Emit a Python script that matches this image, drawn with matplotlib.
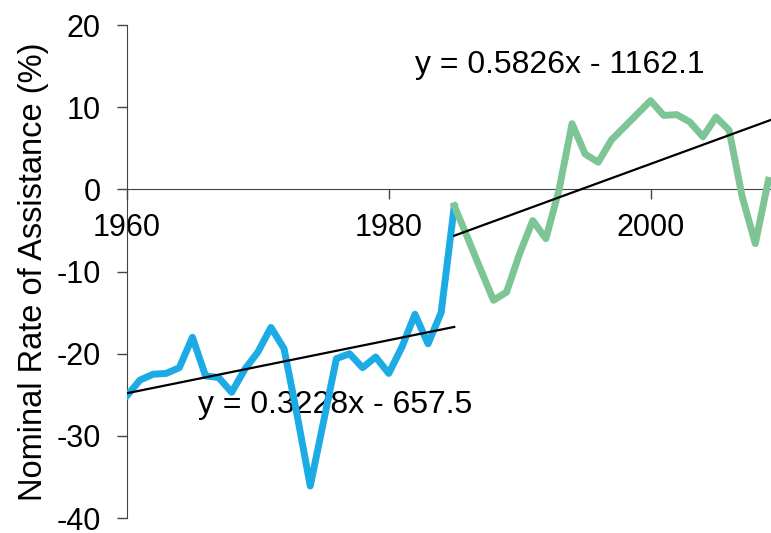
import numpy as np
import matplotlib as mpl
mpl.use('Agg')
import matplotlib.pyplot as plt

mpl.rcParams['font.family'] = ['Liberation Sans', 'DejaVu Sans']
mpl.rcParams['axes.unicode_minus'] = False

# data
years_a = list(range(1960, 1986))
nra_a = [-25.1, -23.2, -22.5, -22.4, -21.7, -18.0, -22.7, -22.9, -24.7, -21.9,
         -19.8, -16.8, -19.4, -27.5, -36.1, -28.4, -20.6, -20.0, -21.7, -20.4,
         -22.4, -19.2, -15.2, -18.8, -15.0, -2.1]
years_b = list(range(1985, 2010))
nra_b = [-2.0, -5.8, -9.7, -13.5, -12.5, -7.8, -3.8, -6.0, -0.1, 8.0,
         4.3, 3.3, 6.0, 7.6, 9.2, 10.8, 9.0, 9.1, 8.2, 6.4,
         8.8, 7.2, -0.9, -6.6, 1.1]

# trend equations shown on chart
trend_a = [0.3228, -657.5]
trend_b = [0.5826, -1162.1]

fig = plt.figure(figsize=(7.71, 5.33), dpi=100)
ax = fig.add_axes([0.1647, 0.0281, 0.8353, 0.9249])

ax.plot(years_a, nra_a, color='#1DABE6', lw=5, solid_joinstyle='round', zorder=3)
ax.plot(years_b, nra_b, color='#7DC594', lw=5, solid_joinstyle='round', zorder=3)

xa = np.array([1960, 1985])
xb = np.array([1985, 2009.3])
ax.plot(xa, np.polyval(trend_a, xa), color='black', lw=1.6, zorder=4)
ax.plot(xb, np.polyval(trend_b, xb), color='black', lw=1.6, zorder=4)

ax.text(1975.9, -26.3, 'y = 0.3228x - 657.5', fontsize=23, ha='center', va='center', zorder=2)
ax.text(1993.1, 15.1, 'y = 0.5826x - 1162.1', fontsize=23, ha='center', va='center', zorder=2)

ax.set_xlim(1960, 2009.2)
ax.set_ylim(-40, 20)
ax.set_xticks([1960, 1980, 2000])
ax.set_yticks(range(-40, 21, 10))

ax.spines['top'].set_visible(False)
ax.spines['right'].set_visible(False)
ax.spines['bottom'].set_position(('data', 0))
ax.spines['bottom'].set_color('#444444')
ax.spines['left'].set_color('#444444')

ax.tick_params(axis='x', direction='out', length=7, width=1, color='#444444',
               labelsize=22, pad=10)
ax.tick_params(axis='y', direction='out', length=7, width=1, color='#444444',
               labelsize=22, pad=12)
ax.set_ylabel('Nominal Rate of Assistance (%)', fontsize=23.5, labelpad=5)

fig.savefig('out.png', dpi=100)
